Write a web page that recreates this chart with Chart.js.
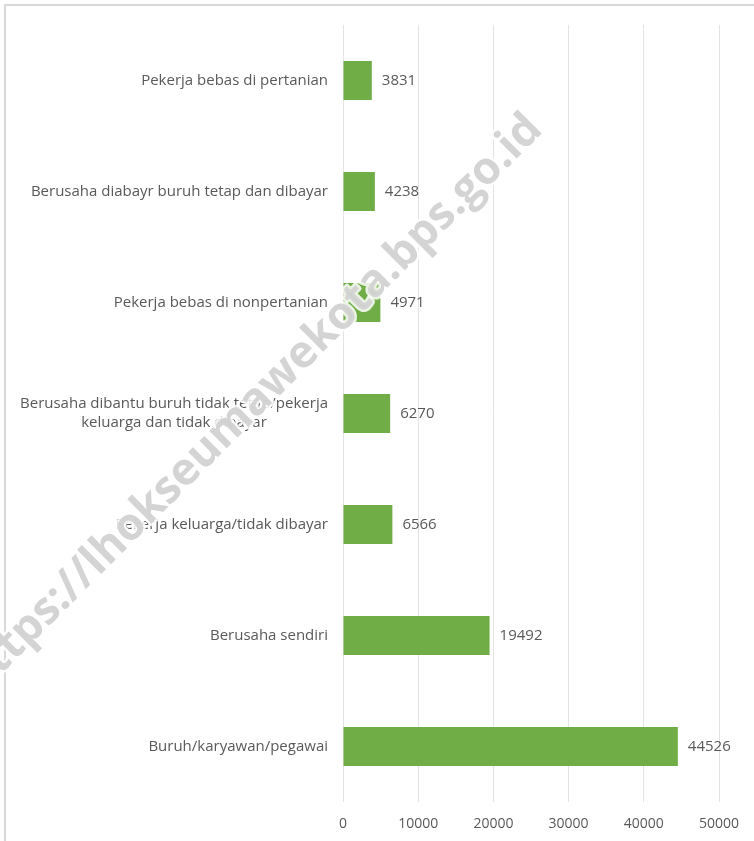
<!DOCTYPE html>
<html>
<head>
<meta charset="utf-8">
<script src="https://cdn.jsdelivr.net/npm/chart.js@4.4.1/dist/chart.umd.min.js"></script>
<style>
  html, body { margin: 0; padding: 0; background: #ffffff; overflow: hidden; }
  #frame { position: absolute; left: 4px; top: 4px; width: 800px; height: 900px; border: 2px solid #d9d9d9; box-sizing: border-box; }
  #wrap { position: absolute; left: 0; top: 0; width: 754px; height: 841px; }
</style>
</head>
<body>
<div id="frame"></div>
<div id="wrap"><canvas id="c" width="754" height="841"></canvas></div>
<script>
const categories = [
  ["Pekerja bebas di pertanian"],
  ["Berusaha diabayr buruh tetap dan dibayar"],
  ["Pekerja bebas di nonpertanian"],
  ["Berusaha dibantu buruh tidak tetap/pekerja", "keluarga dan tidak dibayar"],
  ["Pekerja keluarga/tidak dibayar"],
  ["Berusaha sendiri"],
  ["Buruh/karyawan/pegawai"]
];
const values = [3831, 4238, 4971, 6270, 6566, 19492, 44526];
const xTicks = [0, 10000, 20000, 30000, 40000, 50000];
const watermarkText = "https://lhokseumawekota.bps.go.id";

const FONT = "'Open Sans'";
const TEXT = "#595959";

const labelPlugin = {
  id: "labels",
  afterDatasetsDraw(chart) {
    const ctx = chart.ctx;
    const ys = chart.scales.y;
    const meta = chart.getDatasetMeta(0);
    ctx.save();
    ctx.font = "15px " + FONT;
    ctx.fillStyle = TEXT;
    ctx.textBaseline = "middle";
    categories.forEach((lines, i) => {
      const cy = ys.getPixelForValue(i);
      const widths = lines.map(l => ctx.measureText(l).width);
      const maxW = Math.max(...widths);
      const right = ys.right - 15;
      const centerX = right - maxW / 2;
      const lh = 19;
      lines.forEach((l, j) => {
        const y = cy + (j - (lines.length - 1) / 2) * lh;
        ctx.textAlign = "center";
        ctx.fillText(l, centerX, y);
      });
    });
    ctx.textAlign = "left";
    meta.data.forEach((bar, i) => {
      ctx.fillText(String(values[i]), bar.x + 10, bar.y);
    });
    ctx.restore();
  }
};

const watermarkPlugin = {
  id: "watermark",
  afterDraw(chart) {
    const ctx = chart.ctx;
    ctx.save();
    ctx.translate(535, 122);
    ctx.rotate(-Math.PI / 4);
    ctx.font = "bold 45px 'Open Sans'";
    ctx.textAlign = "right";
    ctx.textBaseline = "middle";
    ctx.lineJoin = "round";
    ctx.strokeStyle = "rgba(255,255,255,0.85)";
    ctx.lineWidth = 5;
    ctx.strokeText(watermarkText, 0, 0);
    ctx.fillStyle = "rgba(210,210,210,0.95)";
    ctx.fillText(watermarkText, 0, 0);
    ctx.restore();
  }
};

new Chart(document.getElementById("c"), {
  type: "bar",
  data: {
    labels: categories,
    datasets: [{
      data: values,
      backgroundColor: "#70AD47",
      borderWidth: 0,
      categoryPercentage: 1,
      barPercentage: 0.35
    }]
  },
  options: {
    indexAxis: "y",
    responsive: false,
    animation: false,
    devicePixelRatio: 1,
    layout: { padding: { top: 25, right: 35, bottom: 0, left: 0 } },
    plugins: { legend: { display: false }, tooltip: { enabled: false } },
    scales: {
      x: {
        min: 0, max: 50000,
        afterBuildTicks(scale) { scale.ticks = xTicks.map(v => ({ value: v })); },
        afterFit(scale) { scale.height = 39; },
        grid: { color: "#e3e3e3", drawTicks: false, lineWidth: 1 },
        border: { display: false },
        ticks: {
          padding: 14, color: TEXT, font: { family: "Open Sans", size: 14 }, maxRotation: 0,
          callback: (v) => String(v)
        }
      },
      y: {
        afterFit(scale) { scale.width = 343; },
        grid: { display: false, drawTicks: false },
        border: { display: false },
        ticks: { display: false }
      }
    }
  },
  plugins: [labelPlugin, watermarkPlugin]
});
</script>
</body>
</html>
